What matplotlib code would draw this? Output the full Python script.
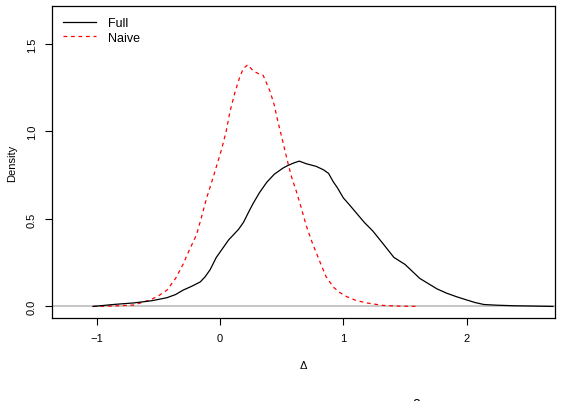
import matplotlib
matplotlib.use('Agg')
import matplotlib.pyplot as plt
import numpy as np

plt.rcParams['font.family'] = ['Liberation Sans', 'DejaVu Sans']

# density estimates
full_x = [-1.03, -0.85, -0.70, -0.55, -0.43, -0.36, -0.30, -0.23, -0.16, -0.12, -0.08,
          -0.03, 0.03, 0.07, 0.11, 0.15, 0.19, 0.24, 0.27, 0.32, 0.38, 0.44, 0.51,
          0.55, 0.60, 0.643, 0.70, 0.78, 0.84, 0.88, 0.92, 0.95, 1.00, 1.05, 1.11,
          1.17, 1.24, 1.32, 1.41, 1.50, 1.56, 1.62, 1.69, 1.76, 1.84, 1.92, 2.00,
          2.07, 2.14, 2.25, 2.38, 2.55, 2.70]
full_y = [0.0, 0.012, 0.02, 0.033, 0.05, 0.068, 0.093, 0.115, 0.14, 0.17, 0.21,
          0.28, 0.34, 0.38, 0.41, 0.44, 0.48, 0.55, 0.59, 0.65, 0.71, 0.755, 0.79,
          0.805, 0.82, 0.83, 0.815, 0.80, 0.78, 0.76, 0.71, 0.68, 0.62, 0.58, 0.53,
          0.48, 0.43, 0.36, 0.28, 0.24, 0.20, 0.16, 0.13, 0.10, 0.075, 0.055, 0.037,
          0.022, 0.011, 0.007, 0.004, 0.002, 0.0]

naive_x = [-1.03, -0.85, -0.70, -0.57, -0.50, -0.43, -0.36, -0.30, -0.25, -0.19,
           -0.15, -0.108, -0.05, 0.014, 0.05, 0.08, 0.12, 0.16, 0.19, 0.225, 0.27,
           0.31, 0.35, 0.405, 0.44, 0.47, 0.51, 0.554, 0.58, 0.62, 0.66, 0.70, 0.75,
           0.81, 0.86, 0.92, 0.97, 1.03, 1.10, 1.19, 1.32, 1.45, 1.61]
naive_y = [0.0, 0.003, 0.008, 0.036, 0.06, 0.093, 0.16, 0.24, 0.32, 0.41,
           0.51, 0.62, 0.75, 0.90, 1.00, 1.11, 1.22, 1.31, 1.36, 1.38, 1.345,
           1.33, 1.32, 1.23, 1.15, 1.055, 0.94, 0.81, 0.74, 0.655, 0.56, 0.46, 0.36,
           0.255, 0.17, 0.11, 0.08, 0.055, 0.035, 0.02, 0.006, 0.002, 0.0]

fig = plt.figure(figsize=(5.62, 4.02), dpi=100)
ax = fig.add_axes([52 / 562, 83 / 402, 503 / 562, 312 / 402])

ax.axhline(0, color='#BEBEBE', lw=1.2, zorder=1)
ax.plot(full_x, full_y, color='black', lw=0.9, label='Full', zorder=3)
ax.plot(naive_x, naive_y, color='red', lw=0.9, dashes=(3, 3), label='Naive', zorder=2)

ax.set_xlim(-1.362, 2.716)
ax.set_ylim(-0.066, 1.716)
ax.set_xticks([-1, 0, 1, 2])
ax.set_xticklabels(['\u22121', '0', '1', '2'])
ax.set_yticks([0, 0.5, 1.0, 1.5])
ax.set_yticklabels(['0.0', '0.5', '1.0', '1.5'], rotation=90, va='center')
ax.tick_params(axis='both', length=5, width=0.8, labelsize=8, pad=6)
for s in ax.spines.values():
    s.set_linewidth(0.9)

ax.set_xlabel('\u0394', fontsize=8, labelpad=12)
ax.set_ylabel('Density', fontsize=8, labelpad=7)

ax.legend(loc='upper left', frameon=False, fontsize=9, handlelength=2.6,
          borderaxespad=0.5, labelspacing=0.2, handletextpad=1.0)

# clipped superscript from the caption below the figure
fig.text(416 / 562, 4 / 402, '2', fontsize=10, ha='center', va='top')

fig.savefig('out.png', dpi=100)
